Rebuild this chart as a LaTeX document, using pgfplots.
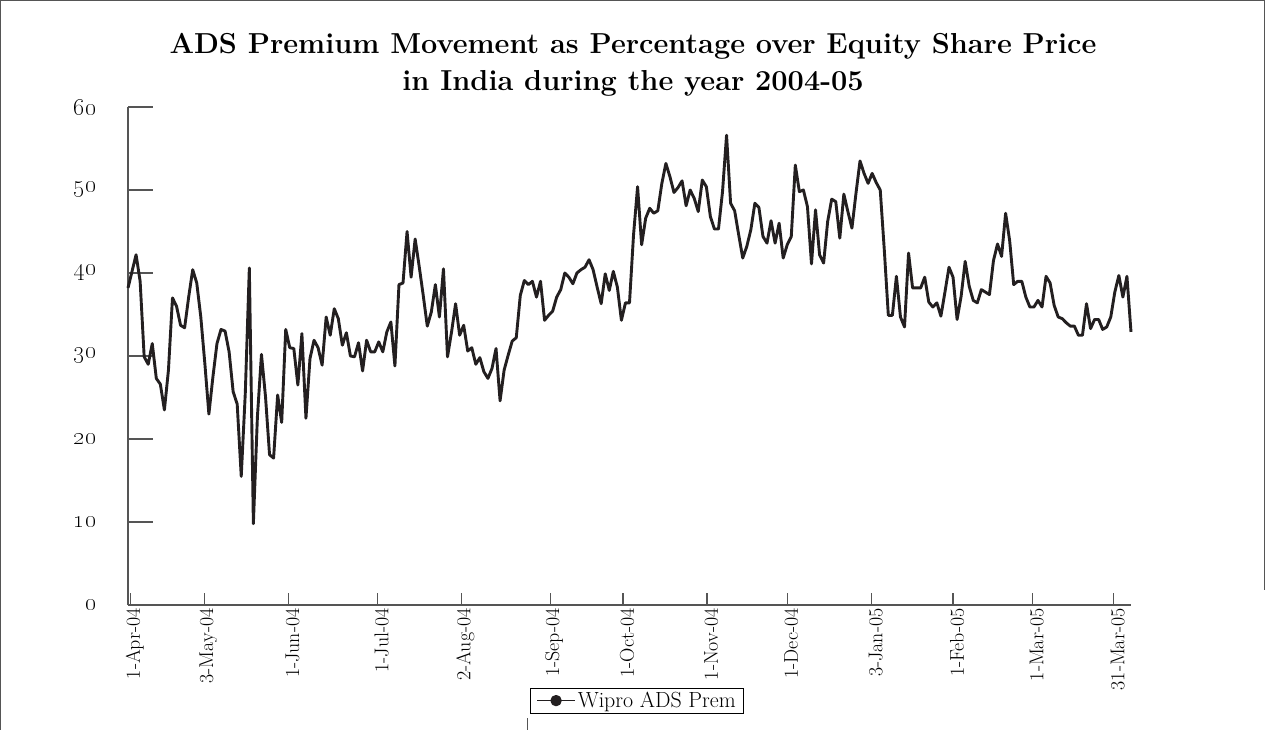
\documentclass[border=0pt]{standalone}
\usepackage{pgfplots}
\pgfplotsset{compat=1.18}
\usepackage{pgfplotstable}
\pgfplotstableread{
i v
0 38.2
1 40.2
2 42.2
3 39.0
4 29.9
5 29.0
6 31.5
7 27.3
8 26.6
9 23.5
10 28.3
11 37.0
12 36.0
13 33.7
14 33.4
15 37.1
16 40.4
17 38.8
18 34.7
19 29.1
20 23.0
21 27.5
22 31.5
23 33.2
24 33.0
25 30.5
26 25.7
27 24.2
28 15.5
29 25.5
30 40.6
31 9.8
32 22.7
33 30.2
34 25.1
35 18.1
36 17.7
37 25.3
38 22.0
39 33.2
40 31.0
41 30.9
42 26.5
43 32.7
44 22.5
45 29.7
46 31.9
47 31.0
48 28.9
49 34.7
50 32.5
51 35.7
52 34.5
53 31.3
54 32.8
55 30.0
56 29.9
57 31.6
58 28.2
59 31.9
60 30.5
61 30.5
62 31.7
63 30.5
64 32.9
65 34.1
66 28.8
67 38.6
68 38.8
69 45.0
70 39.5
71 44.1
72 40.8
73 37.3
74 33.6
75 35.3
76 38.6
77 34.7
78 40.5
79 29.9
80 32.9
81 36.3
82 32.5
83 33.7
84 30.6
85 31.0
86 29.0
87 29.8
88 28.1
89 27.3
90 28.5
91 30.9
92 24.6
93 28.3
94 30.1
95 31.8
96 32.2
97 37.3
98 39.1
99 38.6
100 39.0
101 37.1
102 39.0
103 34.3
104 34.9
105 35.4
106 37.1
107 38.0
108 40.0
109 39.5
110 38.7
111 40.0
112 40.4
113 40.7
114 41.6
115 40.4
116 38.3
117 36.3
118 39.9
119 37.9
120 40.2
121 38.3
122 34.3
123 36.4
124 36.4
125 44.6
126 50.4
127 43.4
128 46.6
129 47.8
130 47.2
131 47.5
132 50.8
133 53.2
134 51.6
135 49.7
136 50.3
137 51.1
138 48.1
139 50.0
140 49.0
141 47.4
142 51.2
143 50.4
144 46.8
145 45.3
146 45.3
147 49.8
148 56.6
149 48.4
150 47.5
151 44.6
152 41.8
153 43.2
154 45.2
155 48.4
156 47.9
157 44.4
158 43.6
159 46.3
160 43.6
161 46.0
162 41.8
163 43.4
164 44.4
165 53.0
166 49.8
167 50.0
168 48.0
169 41.1
170 47.6
171 42.2
172 41.2
173 46.2
174 48.9
175 48.6
176 44.2
177 49.5
178 47.4
179 45.4
180 49.6
181 53.5
182 52.0
183 50.8
184 52.0
185 50.9
186 50.0
187 42.8
188 34.9
189 34.9
190 39.6
191 34.7
192 33.5
193 42.4
194 38.2
195 38.2
196 38.2
197 39.5
198 36.5
199 35.9
200 36.4
201 34.8
202 37.7
203 40.7
204 39.5
205 34.4
206 37.2
207 41.4
208 38.4
209 36.7
210 36.4
211 38.0
212 37.7
213 37.4
214 41.5
215 43.5
216 42.0
217 47.2
218 43.9
219 38.6
220 39.0
221 39.0
222 37.1
223 35.9
224 35.9
225 36.7
226 35.9
227 39.6
228 38.8
229 36.1
230 34.7
231 34.5
232 34.0
233 33.6
234 33.6
235 32.5
236 32.5
237 36.3
238 33.3
239 34.4
240 34.4
241 33.2
242 33.5
243 34.7
244 37.7
245 39.7
246 37.1
247 39.6
248 32.9
}\wipro
\definecolor{axgray}{HTML}{555555}
\definecolor{linecol}{HTML}{231F20}
\begin{document}
\begin{tikzpicture}
\path[use as bounding box] (0,0) rectangle (1265bp,730bp);
% frame
\draw[axgray,line width=1bp] (0.5bp,0) -- (0.5bp,729.5bp) -- (1264.5bp,729.5bp) -- (1264.5bp,140bp);
\draw[axgray,line width=1bp] (527bp,0) -- (527bp,12bp);
% title
\node[anchor=base,font=\fontsize{29}{33}\selectfont\bfseries] at (633bp,676bp) {ADS Premium Movement as Percentage over Equity Share Price};
\node[anchor=base,font=\fontsize{29}{33}\selectfont\bfseries] at (633bp,639bp) {in India during the year 2004-05};
\begin{axis}[
  at={(128bp,125bp)}, anchor=south west,
  scale only axis, width=1003bp, height=498bp,
  xmin=0, xmax=248, ymin=0, ymax=60,
  axis lines*=left,
  axis line style={axgray,line width=1.5bp,-},
  tick align=inside,
  xtick style={axgray,line width=1.3bp,/pgfplots/major tick length=12bp},
  ytick style={axgray,line width=1.3bp,/pgfplots/major tick length=25bp},
  ytick={0,10,20,30,40,50,60},
  yticklabels={\oldstylenums{0},\oldstylenums{10},\oldstylenums{20},\oldstylenums{30},\oldstylenums{40},\oldstylenums{50},\oldstylenums{60}},
  yticklabel style={font=\fontsize{25}{28}\selectfont, xshift=-28bp},
  xtick={0.67,18.9,39.7,61.7,82.4,104.4,122.4,143.2,163.0,183.9,204.0,223.7,243.7},
  xticklabels={1-Apr-04,3-May-04,1-Jun-04,1-Jul-04,2-Aug-04,1-Sep-04,1-Oct-04,1-Nov-04,1-Dec-04,3-Jan-05,1-Feb-05,1-Mar-05,31-Mar-05},
  xticklabel style={font=\fontsize{20}{23}\selectfont, rotate=90, anchor=east, yshift=-4bp},
  clip=false,
  legend style={at={(0.5075,-0.192)}, anchor=center, draw=black, line width=1bp,
    font=\fontsize{22}{25}\selectfont, inner xsep=6bp, inner ysep=2bp},
  legend image code/.code={
    \draw[linecol,line width=1.5bp] (0bp,0bp) -- (38bp,0bp);
    \fill[linecol] (19bp,0bp) circle (4.2bp);
  },
]
\addplot[linecol, line width=2.9bp, line join=round] table[x=i,y=v] {\wipro};
\addlegendentry{Wipro ADS Prem}
\end{axis}
\end{tikzpicture}
\end{document}
